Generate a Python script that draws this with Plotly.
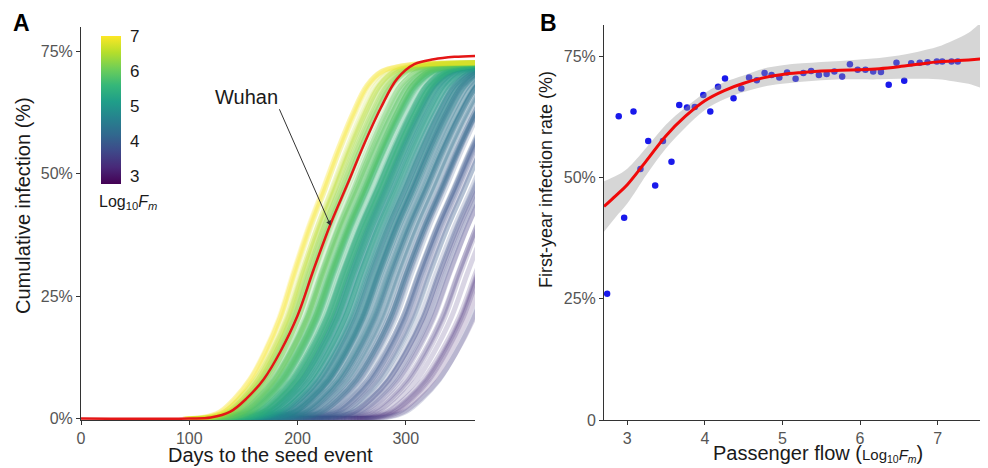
import plotly.graph_objects as go
from plotly.colors import sample_colorscale

# ---------------- Panel A data ----------------
# Wuhan cumulative infection curve (days, %)
wuhan_days = [0, 100, 120, 138, 153, 169, 184, 200, 215, 231, 246, 261, 277, 292, 308, 326, 345, 365]
wuhan_pct = [0, 0, 0.2, 1.4, 4.1, 8.1, 13.6, 21.0, 30.5, 40.0, 47.8, 55.8, 63.5, 69.4, 72.4, 73.4, 73.9, 74.1]

# Other cities: passenger flow (log10 Fm), delay vs Wuhan (days), time stretch of the epidemic curve
city_log10_fm = [
    7.30, 7.10, 6.95, 6.80, 6.70, 6.60, 6.50, 6.45, 6.40, 6.35, 6.30, 6.25, 6.20, 6.15,
    6.10, 6.08, 6.05, 6.02, 6.00, 5.98, 5.95, 5.93, 5.90, 5.88, 5.86, 5.84, 5.82, 5.80, 5.78, 5.76, 5.74, 5.72, 5.71, 5.70, 5.69, 5.68,
    5.65, 5.62, 5.60, 5.57, 5.55, 5.52, 5.50, 5.47, 5.45, 5.42, 5.40, 5.37, 5.35, 5.32, 5.30, 5.27, 5.25, 5.22, 5.20, 5.17, 5.15, 5.12, 5.10, 5.07, 5.05, 5.02, 5.00, 4.97, 4.94, 4.90,
    4.85, 4.83, 4.81, 4.79, 4.77, 4.75, 4.73, 4.71, 4.69, 4.67, 4.65, 4.63, 4.61, 4.59, 4.57, 4.55, 4.53, 4.51, 4.49, 4.47, 4.45, 4.43, 4.41, 4.39, 4.37, 4.35, 4.33, 4.31, 4.29, 4.27, 4.26, 4.52, 4.62, 4.70,
    4.20, 4.18, 4.16, 4.14, 4.12, 4.10, 4.08, 4.06, 4.04, 4.02, 4.00, 3.98, 3.96, 3.94, 3.92, 3.90, 3.88, 3.86, 3.84, 3.83, 3.82, 3.81, 3.80, 4.05,
    3.75, 3.72, 3.69, 3.66, 3.63, 3.60, 3.57, 3.54, 3.51, 3.48, 3.45, 3.42, 3.39, 3.36, 3.33, 3.30, 3.27, 3.24, 3.20, 3.70,
]
city_delay = [
    -5, -3, -6, 0, -2, 3, -4, 1, 5, -1, 7, 2, 9, 4,
    2, 8, 12, 5, 15, 10, 3, 18, 7, 13, 20, 9, 16, 11, 22, 6, 14, 19, 24, 12, 17, 26,
    14, 21, 28, 18, 33, 24, 16, 30, 38, 22, 27, 35, 19, 31, 41, 25, 36, 29, 44, 33, 39, 26, 47, 37, 31, 43, 35, 50, 40, 46,
    38, 52, 45, 32, 57, 42, 49, 61, 36, 54, 47, 66, 41, 58, 51, 63, 45, 70, 55, 60, 48, 67, 75, 53, 62, 71, 57, 80, 65, 52, 74, 68, 84, 59, 77, 28, 30, 35,
    70, 82, 64, 90, 76, 86, 95, 72, 100, 81, 92, 105, 88, 97, 110, 84, 102, 115, 93, 108, 120, 99, 113, 60,
    105, 118, 112, 126, 122, 133, 128, 140, 136, 147, 143, 152, 149, 158, 155, 162, 160, 166, 164, 98,
]
city_stretch = [
    0.88, 0.87, 0.90, 0.86, 0.92, 0.88, 0.95, 0.91, 0.89, 0.96, 0.90, 0.94, 0.92, 0.97,
    0.95, 0.93, 0.97, 0.99, 0.94, 1.00, 0.96, 0.98, 1.02, 0.95, 0.97, 1.00, 0.99, 1.03, 0.96, 1.01, 0.98, 1.00, 0.97, 1.04, 1.00, 0.99,
    1.00, 0.98, 1.02, 1.00, 0.97, 1.03, 1.00, 1.01, 0.99, 1.04, 1.00, 0.98, 1.02, 1.00, 1.03, 1.01, 0.99, 1.02, 1.00, 1.04, 0.98, 1.01, 1.00, 1.03, 1.02, 0.99, 1.01, 1.00, 1.03, 1.02,
    1.00, 1.02, 0.99, 1.01, 1.03, 1.00, 1.02, 0.98, 1.01, 1.03, 1.00, 1.02, 0.99, 1.04, 1.01, 1.00, 1.03, 1.02, 0.99, 1.01, 1.04, 1.00, 1.02, 1.03, 0.99, 1.01, 1.02, 1.00, 1.04, 1.01, 1.00, 1.03, 1.02, 0.99, 1.01, 1.00, 1.02, 1.00,
    1.00, 1.02, 1.01, 0.99, 1.03, 1.00, 1.02, 1.01, 1.00, 1.03, 0.99, 1.02, 1.00, 1.01, 1.03, 1.02, 1.00, 1.01, 1.04, 1.00, 1.02, 1.01, 1.03, 1.00,
    1.00, 1.02, 1.05, 1.00, 1.03, 1.01, 1.05, 1.02, 1.00, 1.04, 1.06, 1.01, 1.03, 1.05, 1.02, 1.00, 1.04, 1.03, 1.05, 1.02,
]
city_plateau_ratio = 0.98

# ---------------- Panel B data ----------------
flow_log10 = [2.74, 2.89, 2.96, 3.08, 3.17, 3.27, 3.36, 3.46, 3.57, 3.67, 3.77, 3.87, 3.98, 4.07, 4.17,
              4.26, 4.37, 4.47, 4.57, 4.67, 4.77, 4.86, 4.96, 5.06, 5.17, 5.27, 5.37, 5.47, 5.57, 5.67,
              5.77, 5.87, 5.97, 6.07, 6.17, 6.27, 6.37, 6.47, 6.57, 6.66, 6.77, 6.87, 6.99, 7.06, 7.18, 7.26]
rate_pct = [26.0, 62.6, 41.7, 63.6, 51.7, 57.5, 48.3, 57.5, 53.2, 64.9, 64.4, 64.5, 67.0, 63.6, 68.7,
            70.4, 66.3, 68.3, 70.6, 70.0, 71.5, 71.1, 70.6, 71.6, 70.3, 71.5, 71.9, 71.1, 71.3, 71.8,
            70.8, 73.3, 72.2, 72.2, 71.8, 71.7, 69.1, 73.6, 69.9, 73.5, 73.6, 73.7, 73.9, 73.9, 73.9, 73.9]

fit_x = [2.70, 2.85, 3.00, 3.25, 3.50, 3.75, 4.00, 4.25, 4.50, 4.75, 5.00, 5.25, 5.50, 5.75,
         6.00, 6.25, 6.50, 6.75, 7.00, 7.20, 7.40, 7.65]
fit_pct = [44.0, 46.2, 48.5, 53.5, 58.6, 62.6, 65.8, 67.9, 69.4, 70.5, 71.2, 71.6, 71.9, 72.1,
           72.2, 72.4, 72.8, 73.3, 73.8, 74.0, 74.2, 74.5]
fit_upper = [49.2, 50.3, 51.8, 56.2, 60.9, 64.4, 67.4, 69.6, 71.0, 72.4, 73.1, 73.5, 73.8, 74.0,
             74.3, 74.6, 75.1, 75.9, 76.9, 78.2, 79.8, 82.5]
fit_lower = [38.8, 41.8, 44.6, 50.6, 56.0, 60.3, 63.9, 66.1, 67.6, 68.7, 69.3, 69.7, 70.0, 70.2,
             70.2, 70.2, 70.3, 70.3, 70.2, 69.8, 69.3, 68.6]

# ---------------- Figure ----------------
# The page body adds an 8px margin, so the figure is 8px smaller and positions are offset by 8px.
OFF = 8
W, H = 988 - OFF, 468 - OFF
FONT = "Liberation Sans, Arial, sans-serif"
CMIN, CMAX = 2.78, 7.0


def px_x(p):
    return (p - OFF) / W


def px_y(p):
    return 1 - (p - OFF) / H


fig = go.Figure()

# Panel A: city curves (low flow first so high-flow curves sit on top)
order = sorted(range(len(city_log10_fm)), key=lambda i: city_log10_fm[i])
for i in order:
    fm = city_log10_fm[i]
    t = (min(max(fm, CMIN), CMAX) - CMIN) / (CMAX - CMIN)
    col = sample_colorscale("Viridis", [t])[0]
    xs, ys = [], []
    for d, v in zip(wuhan_days[1:], wuhan_pct[1:]):
        xs.append(100 + city_delay[i] + (d - 100) * city_stretch[i])
        ys.append(v * city_plateau_ratio / 100)
    xs.append(600)
    ys.append(ys[-1])
    fig.add_trace(go.Scatter(x=xs, y=ys, mode="lines", line=dict(color=col, width=5, shape="spline"),
                             opacity=0.2, hoverinfo="skip", showlegend=False, xaxis="x", yaxis="y"))

# Wuhan
fig.add_trace(go.Scatter(x=wuhan_days, y=[v / 100 for v in wuhan_pct], mode="lines",
                         line=dict(color="rgb(228,22,22)", width=2.5, shape="spline"),
                         showlegend=False, xaxis="x", yaxis="y"))

# Colorbar (dummy trace)
fig.add_trace(go.Scatter(
    x=[None], y=[None], mode="markers", xaxis="x", yaxis="y", showlegend=False,
    marker=dict(color=[CMIN, CMAX], colorscale="Viridis", cmin=CMIN, cmax=CMAX, showscale=True,
                colorbar=dict(x=px_x(101), xanchor="left", y=px_y(36), yanchor="top",
                              len=148 / H, lenmode="fraction", thickness=20, thicknessmode="pixels",
                              outlinewidth=0, ticks="outside", ticklen=6, tickcolor="white",
                              tickvals=[3, 4, 5, 6, 7], xpad=0, ypad=0,
                              tickfont=dict(family=FONT, size=17, color="#1a1a1a"))),
))

# Panel B: points, ribbon, fit
fig.add_trace(go.Scatter(x=flow_log10, y=[v / 100 for v in rate_pct], mode="markers",
                         marker=dict(color="rgb(25,25,235)", size=6.5), showlegend=False,
                         xaxis="x2", yaxis="y2"))
fig.add_trace(go.Scatter(x=fit_x + fit_x[::-1], y=[v / 100 for v in fit_upper + fit_lower[::-1]],
                         mode="lines", fill="toself", fillcolor="rgba(153,153,153,0.4)",
                         line=dict(width=0), line_shape="spline", showlegend=False,
                         hoverinfo="skip", xaxis="x2", yaxis="y2"))
fig.add_trace(go.Scatter(x=fit_x, y=[v / 100 for v in fit_pct], mode="lines",
                         line=dict(color="rgb(240,10,10)", width=3, shape="spline"),
                         showlegend=False, xaxis="x2", yaxis="y2"))

axis_common = dict(showline=True, linecolor="#333333", linewidth=1, ticks="outside", ticklen=4,
                   tickcolor="#333333", showgrid=False, zeroline=False, automargin=False,
                   tickfont=dict(family=FONT, size=16, color="#555555"))

fig.update_layout(
    width=W, height=H, margin=dict(l=0, r=0, t=0, b=0),
    paper_bgcolor="white", plot_bgcolor="white", showlegend=False,
    font=dict(family=FONT),
    xaxis=dict(domain=[px_x(81), px_x(475)], range=[0, 364], tickvals=[0, 100, 200, 300],
               anchor="y", **axis_common),
    yaxis=dict(domain=[px_y(420), px_y(27)], range=[-0.003, 0.80], tickvals=[0, 0.25, 0.5, 0.75],
               ticktext=["0%", "25%", "50%", "75%"], anchor="x", **axis_common),
    xaxis2=dict(domain=[px_x(604), 1.0], range=[2.70, 7.65], tickvals=[3, 4, 5, 6, 7],
                anchor="y2", **axis_common),
    yaxis2=dict(domain=[px_y(420), px_y(25)], range=[0, 0.814], tickvals=[0, 0.25, 0.5, 0.75],
                ticktext=["0", "25%", "50%", "75%"], anchor="x2", **axis_common),
)

ann = []


def text_ann(text, x, y, size, angle=0, bold=False, color="#1a1a1a", xanchor="center", ref="paper"):
    ann.append(dict(text=f"<b>{text}</b>" if bold else text, x=x, y=y, xref=ref if ref == "paper" else "x",
                    yref=ref if ref == "paper" else "y", showarrow=False, textangle=angle,
                    xanchor=xanchor, yanchor="middle",
                    font=dict(family=FONT, size=size, color=color)))


text_ann("A", px_x(21), px_y(23), 23, bold=True, color="black")
text_ann("B", px_x(548), px_y(23), 23, bold=True, color="black")
text_ann("Days to the seed event", px_x(270), px_y(455), 20)
text_ann("Cumulative infection (%)", px_x(23), px_y(206), 20, angle=-90)
text_ann("Passenger flow (<span style='font-size:15px'>Log<sub>10</sub><i>F<sub>m</sub></i></span>)",
         px_x(818), px_y(453), 20)
text_ann("First-year infection rate (%)", px_x(546), px_y(180), 18, angle=-90)
text_ann("Log<sub>10</sub><i>F<sub>m</sub></i>", px_x(97), px_y(202), 16, xanchor="left")
text_ann("Wuhan", 152.5, 0.657, 20, ref="data")

ann.append(dict(x=230.6, y=0.394, ax=182.7, ay=0.635, xref="x", yref="y", axref="x", ayref="y",
                text="", showarrow=True, arrowhead=2, arrowsize=1, arrowwidth=1, arrowcolor="#333333"))

fig.update_layout(annotations=ann)
fig.write_html("out.html")
